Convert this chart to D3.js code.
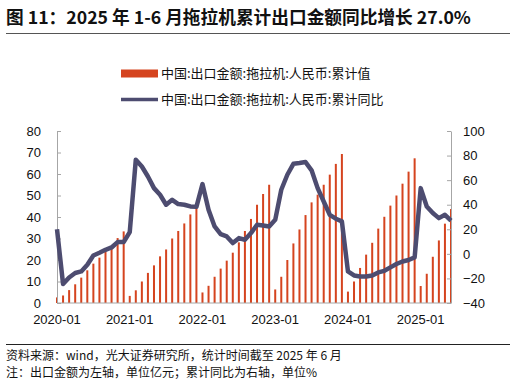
<!doctype html>
<html lang="zh">
  <head>
    <meta charset="utf-8">
    <title>拖拉机累计出口金额</title>
    <style>
      body {
        margin: 0;
        background: #fff;
      }
      svg text {
        font-family: "Liberation Sans", Arial, sans-serif;
      }
      .cjk {
        font-family: "Noto Sans CJK SC", sans-serif;
      }
    </style>
  </head>
  <body>
    <div id="chart"></div>

    <script src="https://cdn.jsdelivr.net/npm/d3@7/dist/d3.min.js"></script>
    <script>
      // months 2020-01 .. 2025-06
      const years = [2020, 2021, 2022, 2023, 2024, 2025]
      const monthNums = ['01', '02', '03', '04', '05', '06', '07', '08', '09', '10', '11', '12']
      const months = []
      years.forEach(yr => monthNums.forEach((m, i) => {
        if (yr < 2025 || i < 6) months.push(`${yr}-${m}`)
      }))

      // 出口金额累计值, 亿元 (left axis)
      const exportValue = [
        2.6, 3.5, 6.0, 8.7, 11.8, 15.2, 18.3, 21.1, 23.9, 26.0, 30.2, 33.3,
        3.3, 5.9, 10.0, 14.0, 17.5, 21.7, 24.9, 30.0, 33.5, 37.0, 41.2, 43.9,
        4.9, 8.0, 12.2, 16.0, 19.7, 23.4, 28.2, 33.5, 39.1, 45.7, 50.7, 55.0,
        6.3, 12.2, 20.0, 27.7, 34.2, 40.9, 46.8, 50.4, 55.0, 59.7, 64.7, 69.3,
        5.3, 10.0, 16.3, 22.5, 28.0, 34.6, 40.1, 45.3, 50.0, 55.5, 61.1, 67.3,
        7.9, 13.6, 21.5, 29.1, 36.9, 43.7
      ]

      // 累计同比, % (right axis)
      const yoy = [
        20.0, -24.6, -19.2, -15.6, -14.3, -8.9, -1.3, 0.9, 3.3, 5.2, 9.6, 9.6,
        17.7, 76.6, 71.1, 63.0, 53.5, 48.1, 40.0, 44.0, 40.5, 40.0, 38.6, 38.3,
        56.8, 35.9, 22.3, 16.0, 14.2, 8.8, 12.8, 11.5, 16.9, 23.7, 23.1, 22.3,
        27.7, 52.2, 64.4, 73.3, 73.9, 74.7, 68.0, 53.5, 42.6, 31.8, 28.6, 26.4,
        -14.3, -17.6, -18.4, -18.4, -17.6, -15.1, -13.8, -11.0, -8.3, -6.2, -5.0, -2.9,
        53.5, 38.6, 33.2, 29.1, 31.8, 27.0
      ]

      const leftTicks = [0, 10, 20, 30, 40, 50, 60, 70, 80]
      const rightTicks = [-40, -20, 0, 20, 40, 60, 80, 100]
      const xLabels = ['2020-01', '2021-01', '2022-01', '2023-01', '2024-01', '2025-01']

      const title = '图 11：2025 年 1-6 月拖拉机累计出口金额同比增长 27.0%'
      const seriesNames = ['中国:出口金额:拖拉机:人民币:累计值', '中国:出口金额:拖拉机:人民币:累计同比']
      const notes = [
        '资料来源：wind，光大证券研究所，统计时间截至 2025 年 6 月',
        '注：出口金额为左轴，单位亿元；累计同比为右轴，单位%'
      ]

      const width = 516
      const height = 385
      const barColor = '#d5441f'
      const lineColor = '#4d4c70'
      const axisColor = '#a6a6a6'

      const svg = d3.select('#chart')
        .append('svg')
        .attr('width', width)
        .attr('height', height)

      const x = d3.scalePoint()
        .domain(months)
        .range([57, 451])

      const yLeft = d3.scaleLinear()
        .domain([0, 80])
        .range([303, 131])

      const yRight = d3.scaleLinear()
        .domain([-40, 100])
        .range([303, 131])

      // title
      svg.append('text')
        .attr('class', 'cjk')
        .attr('x', 6)
        .attr('y', 24)
        .attr('font-size', 17.7)
        .attr('font-weight', 'bold')
        .attr('fill', '#111')
        .text(title)

      svg.append('line')
        .attr('x1', 6).attr('x2', 510)
        .attr('y1', 33.5).attr('y2', 33.5)
        .attr('stroke', '#555')
        .attr('stroke-width', 1)

      // legend
      const legend = svg.append('g')
      legend.append('rect')
        .attr('x', 121).attr('y', 69.5)
        .attr('width', 37).attr('height', 8)
        .attr('fill', barColor)
      legend.append('line')
        .attr('x1', 121).attr('x2', 158)
        .attr('y1', 99.5).attr('y2', 99.5)
        .attr('stroke', lineColor)
        .attr('stroke-width', 3.5)
      legend.selectAll('text.leg')
        .data(seriesNames)
        .enter()
        .append('text')
          .attr('class', 'cjk leg')
          .attr('x', 161)
          .attr('y', (d, i) => 78 + i * 26)
          .attr('font-size', 13)
          .attr('fill', '#111')
          .text(d => d)

      // bars
      svg.append('g').selectAll('rect')
        .data(exportValue)
        .enter()
        .append('rect')
          .attr('x', (d, i) => x(months[i]) - 1)
          .attr('y', d => yLeft(d))
          .attr('width', 2)
          .attr('height', d => yLeft(0) - yLeft(d))
          .attr('fill', barColor)

      // axes
      const leftAxis = svg.append('g')
        .attr('transform', 'translate(57,0)')
        .call(d3.axisLeft(yLeft).tickValues(leftTicks).tickSize(-4).tickSizeOuter(0).tickPadding(16))
      const rightAxis = svg.append('g')
        .attr('transform', 'translate(451,0)')
        .call(d3.axisRight(yRight).tickValues(rightTicks).tickSize(-4).tickSizeOuter(0).tickPadding(12))

      ;[leftAxis, rightAxis].forEach(g => {
        g.select('.domain').attr('stroke', axisColor)
        g.selectAll('.tick line').attr('stroke', axisColor)
        g.selectAll('.tick text')
          .attr('font-size', 13)
          .attr('fill', '#111')
          .attr('font-family', '"Liberation Sans", Arial, sans-serif')
      })

      svg.append('line')
        .attr('x1', 57).attr('x2', 451)
        .attr('y1', 303).attr('y2', 303)
        .attr('stroke', axisColor)

      svg.append('g').selectAll('text')
        .data(xLabels)
        .enter()
        .append('text')
          .attr('x', d => x(d))
          .attr('y', 324)
          .attr('text-anchor', 'middle')
          .attr('font-size', 13)
          .attr('fill', '#111')
          .text(d => d)

      // yoy line
      const line = d3.line()
        .x((d, i) => x(months[i]))
        .y(d => yRight(d))

      svg.append('path')
        .datum(yoy)
        .attr('d', line)
        .attr('fill', 'none')
        .attr('stroke', lineColor)
        .attr('stroke-width', 4.5)
        .attr('stroke-linejoin', 'round')

      // footer
      svg.append('line')
        .attr('x1', 6).attr('x2', 510)
        .attr('y1', 344.5).attr('y2', 344.5)
        .attr('stroke', '#222')
        .attr('stroke-width', 1)

      svg.append('g').selectAll('text')
        .data(notes)
        .enter()
        .append('text')
          .attr('class', 'cjk')
          .attr('x', 6)
          .attr('y', (d, i) => 360 + i * 17)
          .attr('font-size', 12)
          .attr('fill', '#111')
          .text(d => d)
    </script>
  </body>
</html>
